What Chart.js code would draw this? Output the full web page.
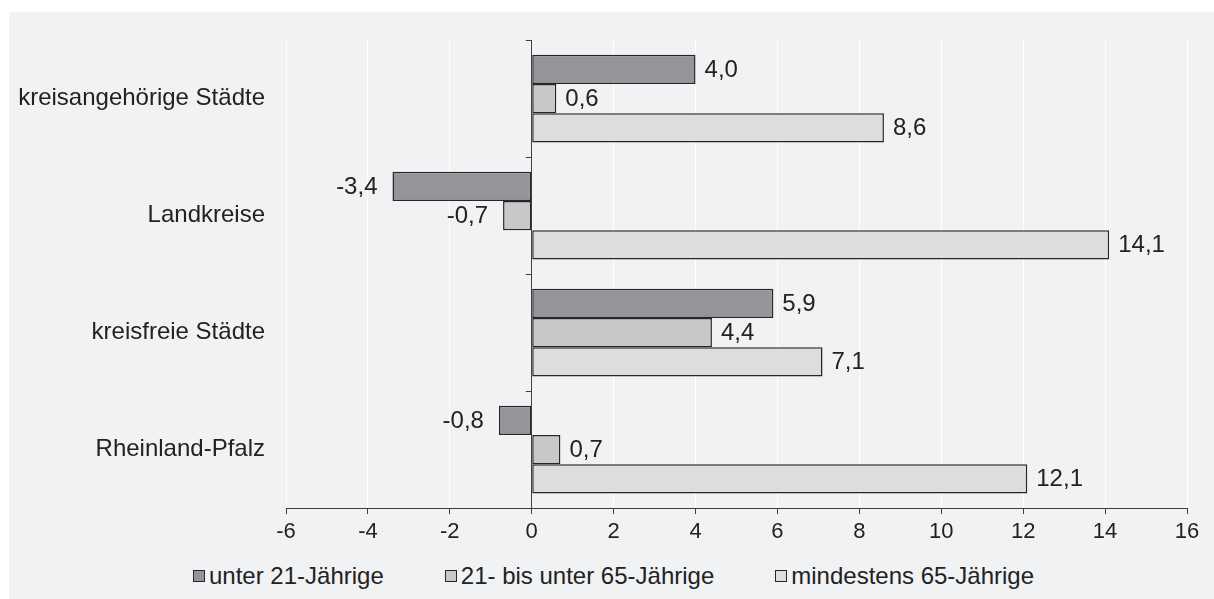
<!DOCTYPE html>
<html>
<head>
<meta charset="utf-8">
<script src="https://cdn.jsdelivr.net/npm/chart.js@4"></script>
<style>
  html, body { margin: 0; padding: 0; background: #fff; }
  #frame { position: absolute; left: 9px; top: 12px; width: 1205px; height: 587px; background: #f1f2f4; }
  #wrap { position: absolute; left: 0; top: 0; width: 1205px; height: 548px; }
  #legend { position: absolute; left: 184px; top: 551px; display: flex; font-family: "Liberation Sans", Arial, sans-serif; font-size: 24px; line-height: 26px; color: #222; }
  #legend span { display: flex; align-items: center; margin-right: 61px; }
  #legend i { display: inline-block; width: 10px; height: 10px; border: 1.5px solid #262626; margin-right: 4px; }
</style>
</head>
<body>
<div id="frame">
  <div id="wrap"><canvas id="chart"></canvas></div>
  <div id="legend"></div>
</div>
<script>
// Data
const categories = ['kreisangehörige Städte', 'Landkreise', 'kreisfreie Städte', 'Rheinland-Pfalz'];
const seriesNames = ['unter 21-Jährige', '21- bis unter 65-Jährige', 'mindestens 65-Jährige'];
const unter21 = [4.0, -3.4, 5.9, -0.8];
const von21bis65 = [0.6, -0.7, 4.4, 0.7];
const ab65 = [8.6, 14.1, 7.1, 12.1];
const xTicks = [-6, -4, -2, 0, 2, 4, 6, 8, 10, 12, 14, 16];

const colors = ['#939598', '#c7c8ca', '#dcdddf'];
const edge = '#262626';
const font = '"Liberation Sans", Arial, sans-serif';

const fmt = v => v.toFixed(1).replace('.', ',');

// value labels next to the bar ends
const valueLabels = {
  id: 'valueLabels',
  afterDatasetsDraw(chart) {
    const ctx = chart.ctx;
    ctx.save();
    ctx.font = '24px ' + font;
    ctx.fillStyle = '#222';
    ctx.textBaseline = 'middle';
    chart.data.datasets.forEach((ds, i) => {
      chart.getDatasetMeta(i).data.forEach((bar, j) => {
        const v = ds.data[j];
        if (v >= 0) {
          ctx.textAlign = 'left';
          ctx.fillText(fmt(v), bar.x + 9, bar.y + 1);
        } else {
          ctx.textAlign = 'right';
          ctx.fillText(fmt(v), bar.x - 15, bar.y + 1);
        }
      });
    });
    ctx.restore();
  }
};

// small tick marks on the vertical zero axis between categories
const zeroAxisTicks = {
  id: 'zeroAxisTicks',
  afterDraw(chart) {
    const x = chart.scales.x.getPixelForValue(0);
    const y = chart.scales.y;
    const half = (y.getPixelForValue(1) - y.getPixelForValue(0)) / 2;
    const ctx = chart.ctx;
    ctx.save();
    ctx.strokeStyle = '#404040';
    ctx.lineWidth = 1;
    for (let i = 0; i < categories.length; i++) {
      const yy = Math.round(y.getPixelForValue(i) - half) + 0.5;
      ctx.beginPath();
      ctx.moveTo(x - 6, yy);
      ctx.lineTo(x, yy);
      ctx.stroke();
    }
    ctx.restore();
  }
};

const ctx = document.getElementById('chart').getContext('2d');
new Chart(ctx, {
  type: 'bar',
  data: {
    labels: categories,
    datasets: [
      { label: seriesNames[0], data: unter21, backgroundColor: colors[0] },
      { label: seriesNames[1], data: von21bis65, backgroundColor: colors[1] },
      { label: seriesNames[2], data: ab65, backgroundColor: colors[2] }
    ]
  },
  options: {
    indexAxis: 'y',
    responsive: true,
    maintainAspectRatio: false,
    animation: false,
    datasets: {
      bar: {
        borderColor: edge,
        borderWidth: 1.5,
        borderSkipped: false,
        categoryPercentage: 0.75,
        barPercentage: 1
      }
    },
    layout: { padding: { top: 28, right: 27, bottom: 8, left: 0 } },
    plugins: {
      legend: { display: false },
      tooltip: { enabled: false }
    },
    scales: {
      x: {
        min: -6,
        max: 16,
        afterBuildTicks: s => { s.ticks = xTicks.map(v => ({ value: v })); },
        afterFit: s => { s.height = 44; },
        grid: {
          color: c => (c.tick && c.tick.value === 0) ? '#404040' : '#ffffff',
          lineWidth: 1,
          tickColor: '#404040',
          tickLength: 6
        },
        border: { color: '#404040', width: 1 },
        ticks: {
          color: '#222',
          font: { family: font, size: 22 },
          padding: 5,
          callback: v => String(v)
        }
      },
      y: {
        afterFit: s => { s.width = 277; s.paddingTop = 0; s.paddingBottom = 0; },
        grid: { display: false, drawTicks: false },
        border: { display: false },
        ticks: {
          color: '#222',
          font: { family: font, size: 24 },
          padding: 21
        }
      }
    }
  },
  plugins: [valueLabels, zeroAxisTicks]
});

// legend below the chart
const legend = document.getElementById('legend');
seriesNames.forEach((name, i) => {
  const item = document.createElement('span');
  const box = document.createElement('i');
  box.style.background = colors[i];
  item.appendChild(box);
  item.appendChild(document.createTextNode(name));
  legend.appendChild(item);
});
</script>
</body>
</html>
